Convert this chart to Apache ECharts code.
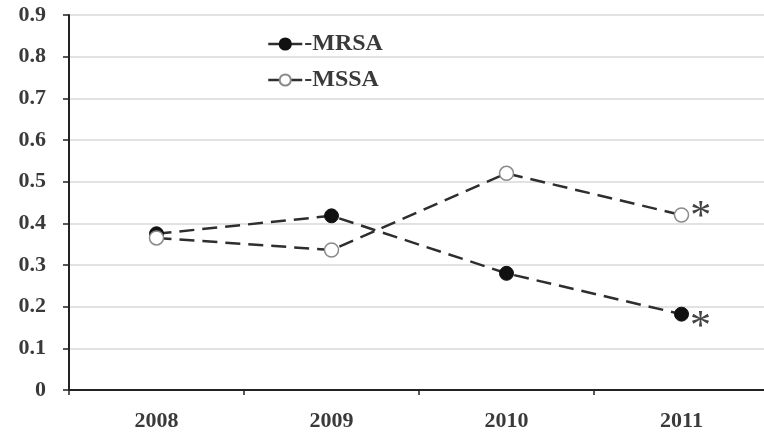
<!DOCTYPE html>
<html>
<head>
<meta charset="utf-8">
<script src="https://cdn.jsdelivr.net/npm/echarts@6/dist/echarts.min.js"></script>
<style>
  html, body { margin: 0; padding: 0; background: #fff; }
  #chart { width: 764px; height: 435px; }
</style>
</head>
<body>
<div id="chart"></div>
<script>
// Yearly values for the two S. aureus groups
const years = ['2008', '2009', '2010', '2011'];
const mrsa = [0.375, 0.418, 0.28, 0.182];
const mssa = [0.365, 0.336, 0.52, 0.42];
const yTicks = [0, 0.1, 0.2, 0.3, 0.4, 0.5, 0.6, 0.7, 0.8, 0.9];

const serif = '"Liberation Serif", "Times New Roman", serif';
const textColor = '#3a3a3a';

// The last year carries a significance asterisk
function withStar(values, offset) {
  return values.map((v, i) => i === values.length - 1
    ? { value: v, label: { show: true, formatter: '*', position: 'right', distance: 1,
        offset: offset, fontSize: 42, fontFamily: serif, color: '#444' } }
    : v);
}

const chart = echarts.init(document.getElementById('chart'));
chart.setOption({
  animation: false,
  // the x axis runs on past the right edge of the canvas
  grid: { left: 69, right: -5, top: 15, bottom: 45, outerBoundsMode: 'none', containLabel: false },
  legend: {
    orient: 'vertical',
    left: 262,
    top: 27,
    itemWidth: 34,
    itemHeight: 14,
    itemGap: 12,
    lineStyle: { type: 'solid', width: 2.5 },
    formatter: name => '-' + name,
    textStyle: { fontFamily: serif, fontWeight: 'bold', fontSize: 24, color: textColor, padding: [0, 0, 0, -3] },
    data: ['MRSA', 'MSSA']
  },
  xAxis: {
    type: 'category',
    data: years,
    boundaryGap: true,
    axisLine: { lineStyle: { color: '#222', width: 2 } },
    axisTick: { show: true, alignWithLabel: false, length: 5, inside: false, lineStyle: { color: '#222', width: 1.5 } },
    axisLabel: { margin: 20, fontFamily: serif, fontWeight: 'bold', fontSize: 22, color: textColor },
    splitLine: { show: false }
  },
  yAxis: {
    type: 'value',
    min: yTicks[0],
    max: yTicks[yTicks.length - 1],
    interval: 0.1,
    axisLine: { show: true, lineStyle: { color: '#222', width: 2 } },
    axisTick: { show: true, length: 6, lineStyle: { color: '#222', width: 1.5 } },
    axisLabel: {
      margin: 23,
      fontFamily: serif, fontWeight: 'bold', fontSize: 22, color: textColor,
      formatter: v => (Math.abs(v) < 1e-9 ? '0' : v.toFixed(1))
    },
    splitLine: { show: true, lineStyle: { color: '#d9d9d9', width: 1.5 } }
  },
  series: [
    {
      name: 'MRSA',
      type: 'line',
      data: withStar(mrsa, [0, 14]),
      symbol: 'circle',
      symbolSize: 14,
      z: 3,
      lineStyle: { color: '#2e2e2e', width: 2.5, type: [15, 8] },
      itemStyle: { color: '#111', borderColor: '#111', borderWidth: 1 }
    },
    {
      name: 'MSSA',
      type: 'line',
      data: withStar(mssa, [0, 3]),
      symbol: 'circle',
      symbolSize: 14,
      z: 3,
      lineStyle: { color: '#2e2e2e', width: 2.5, type: [15, 8] },
      itemStyle: { color: '#fff', borderColor: '#8a8a8a', borderWidth: 1.5 }
    }
  ]
});
</script>
</body>
</html>
